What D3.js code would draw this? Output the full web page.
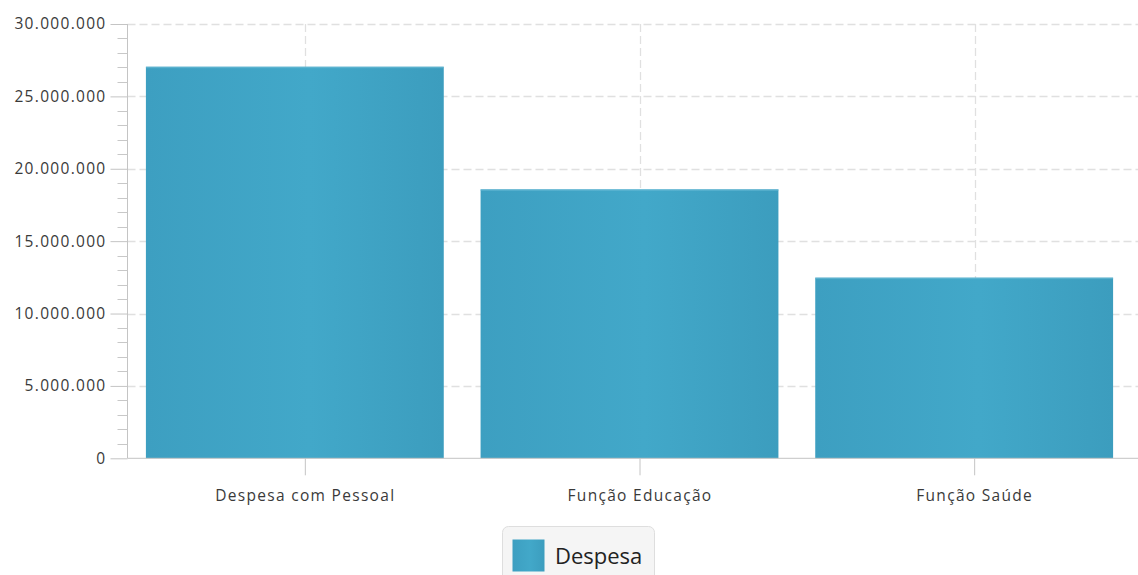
<!DOCTYPE html>
<html><head><meta charset="utf-8">
<script src="https://cdn.jsdelivr.net/npm/d3@7"></script>
<style>
body{margin:0;background:#fff;}
svg{display:block;}
text{font-family:"Open Sans",sans-serif;}
</style></head>
<body>
<svg id="c" width="1138" height="575"></svg>
<script>
const categories = ["Despesa com Pessoal", "Função Educação", "Função Saúde"];
const values = [27050000, 18580000, 12480000];
const seriesName = "Despesa";
const yTicks = [0, 5000000, 10000000, 15000000, 20000000, 25000000, 30000000];

(function(){
const svg = d3.select("#c");
const W = 1138, H = 575;
const pLeft = 127.5, pTop = 24, pBottom = 458.3;

const y = d3.scaleLinear().domain([0, 30000000]).range([pBottom, pTop]);
const x = d3.scaleBand().domain(categories).range([138, 1142]).padding(0);
const xb = d3.scaleBand().domain(categories).range([pLeft, 1131.5]).paddingInner(0.11).paddingOuter(0.055);

const fmt = v => d3.format(",")(v).replace(/,/g, ".");

const defs = svg.append("defs");
const g = defs.append("linearGradient").attr("id","bg").attr("x1","0").attr("x2","1").attr("y1","0").attr("y2","0");
g.append("stop").attr("offset","0%").attr("stop-color","#3d9fc1");
g.append("stop").attr("offset","55%").attr("stop-color","#42a8c9");
g.append("stop").attr("offset","100%").attr("stop-color","#3c9dbe");

// horizontal grid
svg.append("g").selectAll("line").data(yTicks.filter(d=>d>0)).join("line")
  .attr("x1", pLeft).attr("x2", W)
  .attr("y1", d=>Math.round(y(d))+0.5).attr("y2", d=>Math.round(y(d))+0.5)
  .attr("stroke","#e0e0e0").attr("stroke-width",1.3).attr("stroke-dasharray","8,4");
// vertical grid
svg.append("g").selectAll("line").data(categories).join("line")
  .attr("x1", d=>Math.round(x(d)+x.bandwidth()/2)+0.5).attr("x2", d=>Math.round(x(d)+x.bandwidth()/2)+0.5)
  .attr("y1", pTop).attr("y2", pBottom)
  .attr("stroke","#e0e0e0").attr("stroke-width",1.3).attr("stroke-dasharray","8,4");

// bars
const bars = svg.append("g");
bars.selectAll("rect.bar").data(values).join("rect").attr("class","bar")
  .attr("x", (d,i)=>xb(categories[i])).attr("width", xb.bandwidth())
  .attr("y", d=>y(d)).attr("height", d=>pBottom - y(d))
  .attr("fill","url(#bg)");
bars.selectAll("rect.hl").data(values).join("rect").attr("class","hl")
  .attr("x", (d,i)=>xb(categories[i])).attr("width", xb.bandwidth())
  .attr("y", d=>y(d)).attr("height", 1.5)
  .attr("fill","#6cbcd6").attr("opacity",0.6);

// y axis
const yAxis = d3.axisLeft(y).tickValues(yTicks).tickSize(17).tickPadding(5).tickFormat(fmt);
const ya = svg.append("g").attr("transform",`translate(${pLeft},0)`).call(yAxis);
ya.select(".domain").attr("stroke","#c4c4c4").attr("d",`M0,${pTop}V${pBottom}`);
ya.selectAll(".tick line").attr("stroke","#c4c4c4");
ya.selectAll(".tick text").attr("fill","#3a3a3a").style("font-size","15.5px").style("letter-spacing","1.3px").attr("dx","1px");
// minor ticks
const minor = d3.range(0, 30000001, 1000000).filter(v => v % 5000000 !== 0);
svg.append("g").selectAll("line").data(minor).join("line")
  .attr("x1", pLeft-10).attr("x2", pLeft)
  .attr("y1", d=>Math.round(y(d))+0.5).attr("y2", d=>Math.round(y(d))+0.5)
  .attr("stroke","#c8c8c8");

// x axis
const xAxis = d3.axisBottom(x).tickSize(17).tickPadding(15);
const xa = svg.append("g").attr("transform",`translate(0,${pBottom})`).call(xAxis);
xa.select(".domain").attr("stroke","#c4c4c4").attr("d",`M${pLeft},0H${W}`);
xa.selectAll(".tick line").attr("stroke","#c4c4c4");
xa.selectAll(".tick text").attr("fill","#3a3a3a").style("font-size","15.5px").style("letter-spacing","1.3px");

// legend
const lg = svg.append("g");
lg.append("rect").attr("x",502.5).attr("y",526.5).attr("width",152).attr("height",60).attr("rx",6)
  .attr("fill","#f5f5f5").attr("stroke","#dedede");
lg.append("rect").attr("x",512.5).attr("y",539.5).attr("width",32).attr("height",32).attr("fill","url(#bg)");
lg.append("text").attr("x",555).attr("y",564).text(seriesName).attr("fill","#222").style("font-size","22px");
})();
</script>
</body></html>
